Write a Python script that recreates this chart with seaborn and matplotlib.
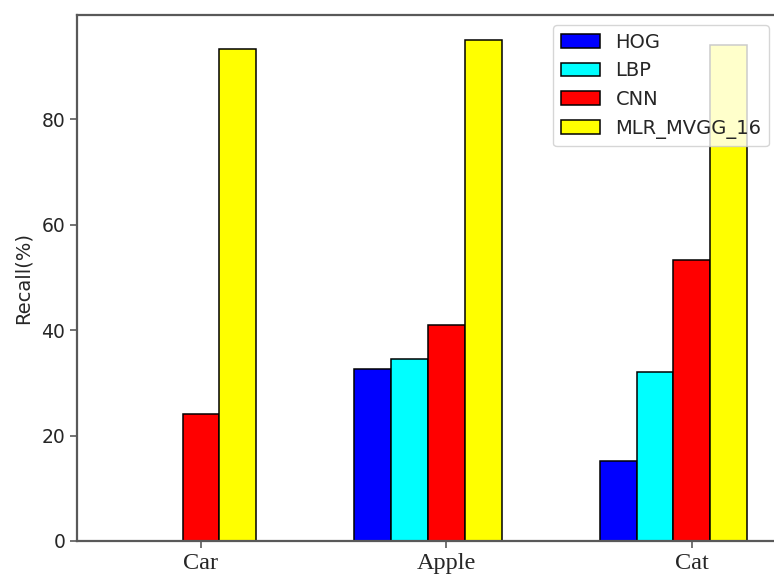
import matplotlib
matplotlib.use("Agg")
import matplotlib.pyplot as plt
import seaborn as sns
import pandas as pd
from matplotlib.patches import Patch

# Recall per object class for each feature extractor
categories = ["Car", "Apple", "Cat"]
methods = ["HOG", "LBP", "CNN", "MLR_MVGG_16"]
hog = [0.0, 32.7, 15.2]
lbp = [0.0, 34.5, 32.1]
cnn = [24.1, 40.9, 53.3]
mlr_mvgg16 = [93.3, 95.0, 94.1]
colors = ["#0000ff", "#00ffff", "#ff0000", "#ffff00"]

series = {"HOG": hog, "LBP": lbp, "CNN": cnn, "MLR_MVGG_16": mlr_mvgg16}
rows = []
for m in methods:
    for c, v in zip(categories, series[m]):
        rows.append({"category": c, "method": m, "recall": v})
df = pd.DataFrame(rows)

sns.set_style("ticks")
plt.rcParams["font.family"] = ["DejaVu Sans"]

W, H = 774, 575
fig = plt.figure(figsize=(W / 100, H / 100), dpi=100)
ax = fig.add_axes([77 / W, 34 / H, 702 / W, 526 / H])

palette = dict(zip(methods, colors))
sns.barplot(data=df, x="category", y="recall", hue="method", order=categories,
            hue_order=methods, palette=palette, width=0.6, dodge=True,
            edgecolor="black", linewidth=1.1, saturation=1, errorbar=None,
            legend=False, ax=ax)

# bar width per method is 0.15; ticks sit under the CNN bar of each group
bw = 0.15
ax.set_xticks([i + bw / 2 for i in range(len(categories))])
ax.set_xticklabels(categories, fontfamily="Liberation Serif", fontsize=17.5)
ax.set_xlim(-0.43, 2.43)
ax.set_ylim(0, 99.75)
ax.set_yticks([0, 20, 40, 60, 80])
ax.tick_params(axis="y", labelsize=13.5, length=5, width=1.1, color="0.3")
ax.tick_params(axis="x", length=5, width=1.1, color="0.3")
ax.set_xlabel("")
ax.set_ylabel("Recall(%)", fontsize=14, labelpad=6)

for sp in ax.spines.values():
    sp.set_color("0.35")
    sp.set_linewidth(1.6)

handles = [Patch(facecolor=c, edgecolor="black", linewidth=1.1) for c in colors]
ax.legend(handles, methods, loc="upper right", fontsize=14, framealpha=0.8,
          edgecolor="0.8", fancybox=True)

fig.savefig("out.png", dpi=100, facecolor="white")
